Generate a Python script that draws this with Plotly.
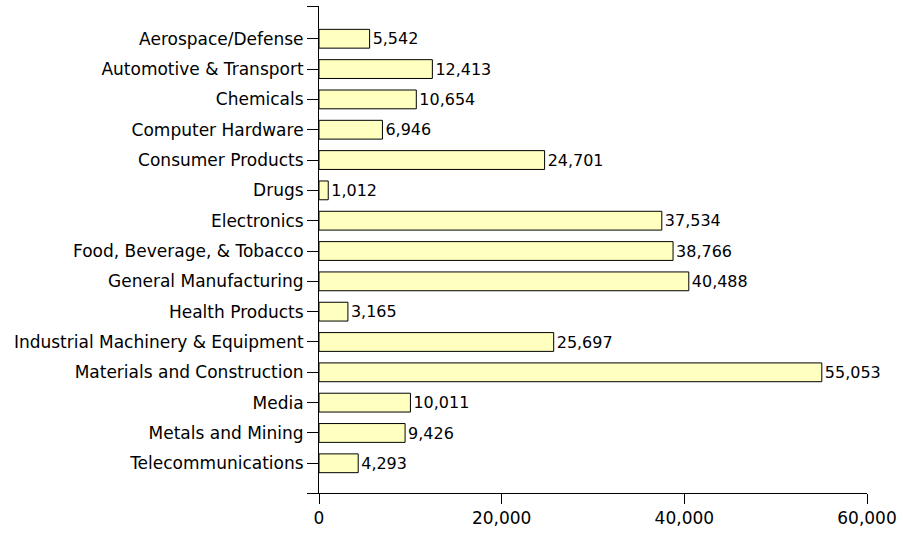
import plotly.graph_objects as go

categories = [
    "Aerospace/Defense", "Automotive & Transport", "Chemicals", "Computer Hardware",
    "Consumer Products", "Drugs", "Electronics", "Food, Beverage, & Tobacco",
    "General Manufacturing", "Health Products", "Industrial Machinery & Equipment",
    "Materials and Construction", "Media", "Metals and Mining", "Telecommunications",
]
values = [5542, 12413, 10654, 6946, 24701, 1012, 37534, 38766, 40488, 3165,
          25697, 55053, 10011, 9426, 4293]
x_ticks = [0, 20000, 40000, 60000]

pos = list(range(len(categories)))
FONT = dict(family="DejaVu Sans", size=17, color="#000000")

y_top = -1.08
y_bottom = len(categories) - 0.02

fig = go.Figure(go.Bar(
    x=values, y=pos, orientation="h",
    marker=dict(color="#FFFFC0", line=dict(color="#000000", width=1)),
    text=[f"{v:,}" for v in values], textposition="outside",
    textfont=FONT, cliponaxis=False, width=0.62,
))

fig.update_layout(
    width=903, height=534,
    margin=dict(l=319, r=32, t=6, b=37),
    paper_bgcolor="white", plot_bgcolor="white",
    font=FONT, showlegend=False,
    xaxis=dict(range=[0, 60000], tickvals=x_ticks, ticktext=[f"{t:,}" for t in x_ticks],
               ticks="outside", ticklen=10, tickcolor="black", showgrid=False,
               zeroline=False, showline=True, linecolor="black", linewidth=1,
               tickfont=FONT, fixedrange=True),
    yaxis=dict(range=[y_bottom, y_top],
               tickvals=[y_top] + pos + [y_bottom],
               ticktext=[""] + categories + [""],
               ticks="outside", ticklen=11, tickcolor="black", showgrid=False,
               zeroline=False, showline=True, linecolor="black", linewidth=1,
               tickfont=FONT, fixedrange=True),
)

fig.write_html("out.html", config={"displayModeBar": False},
               post_script="document.body.style.margin='0';document.body.style.overflow='hidden';")
